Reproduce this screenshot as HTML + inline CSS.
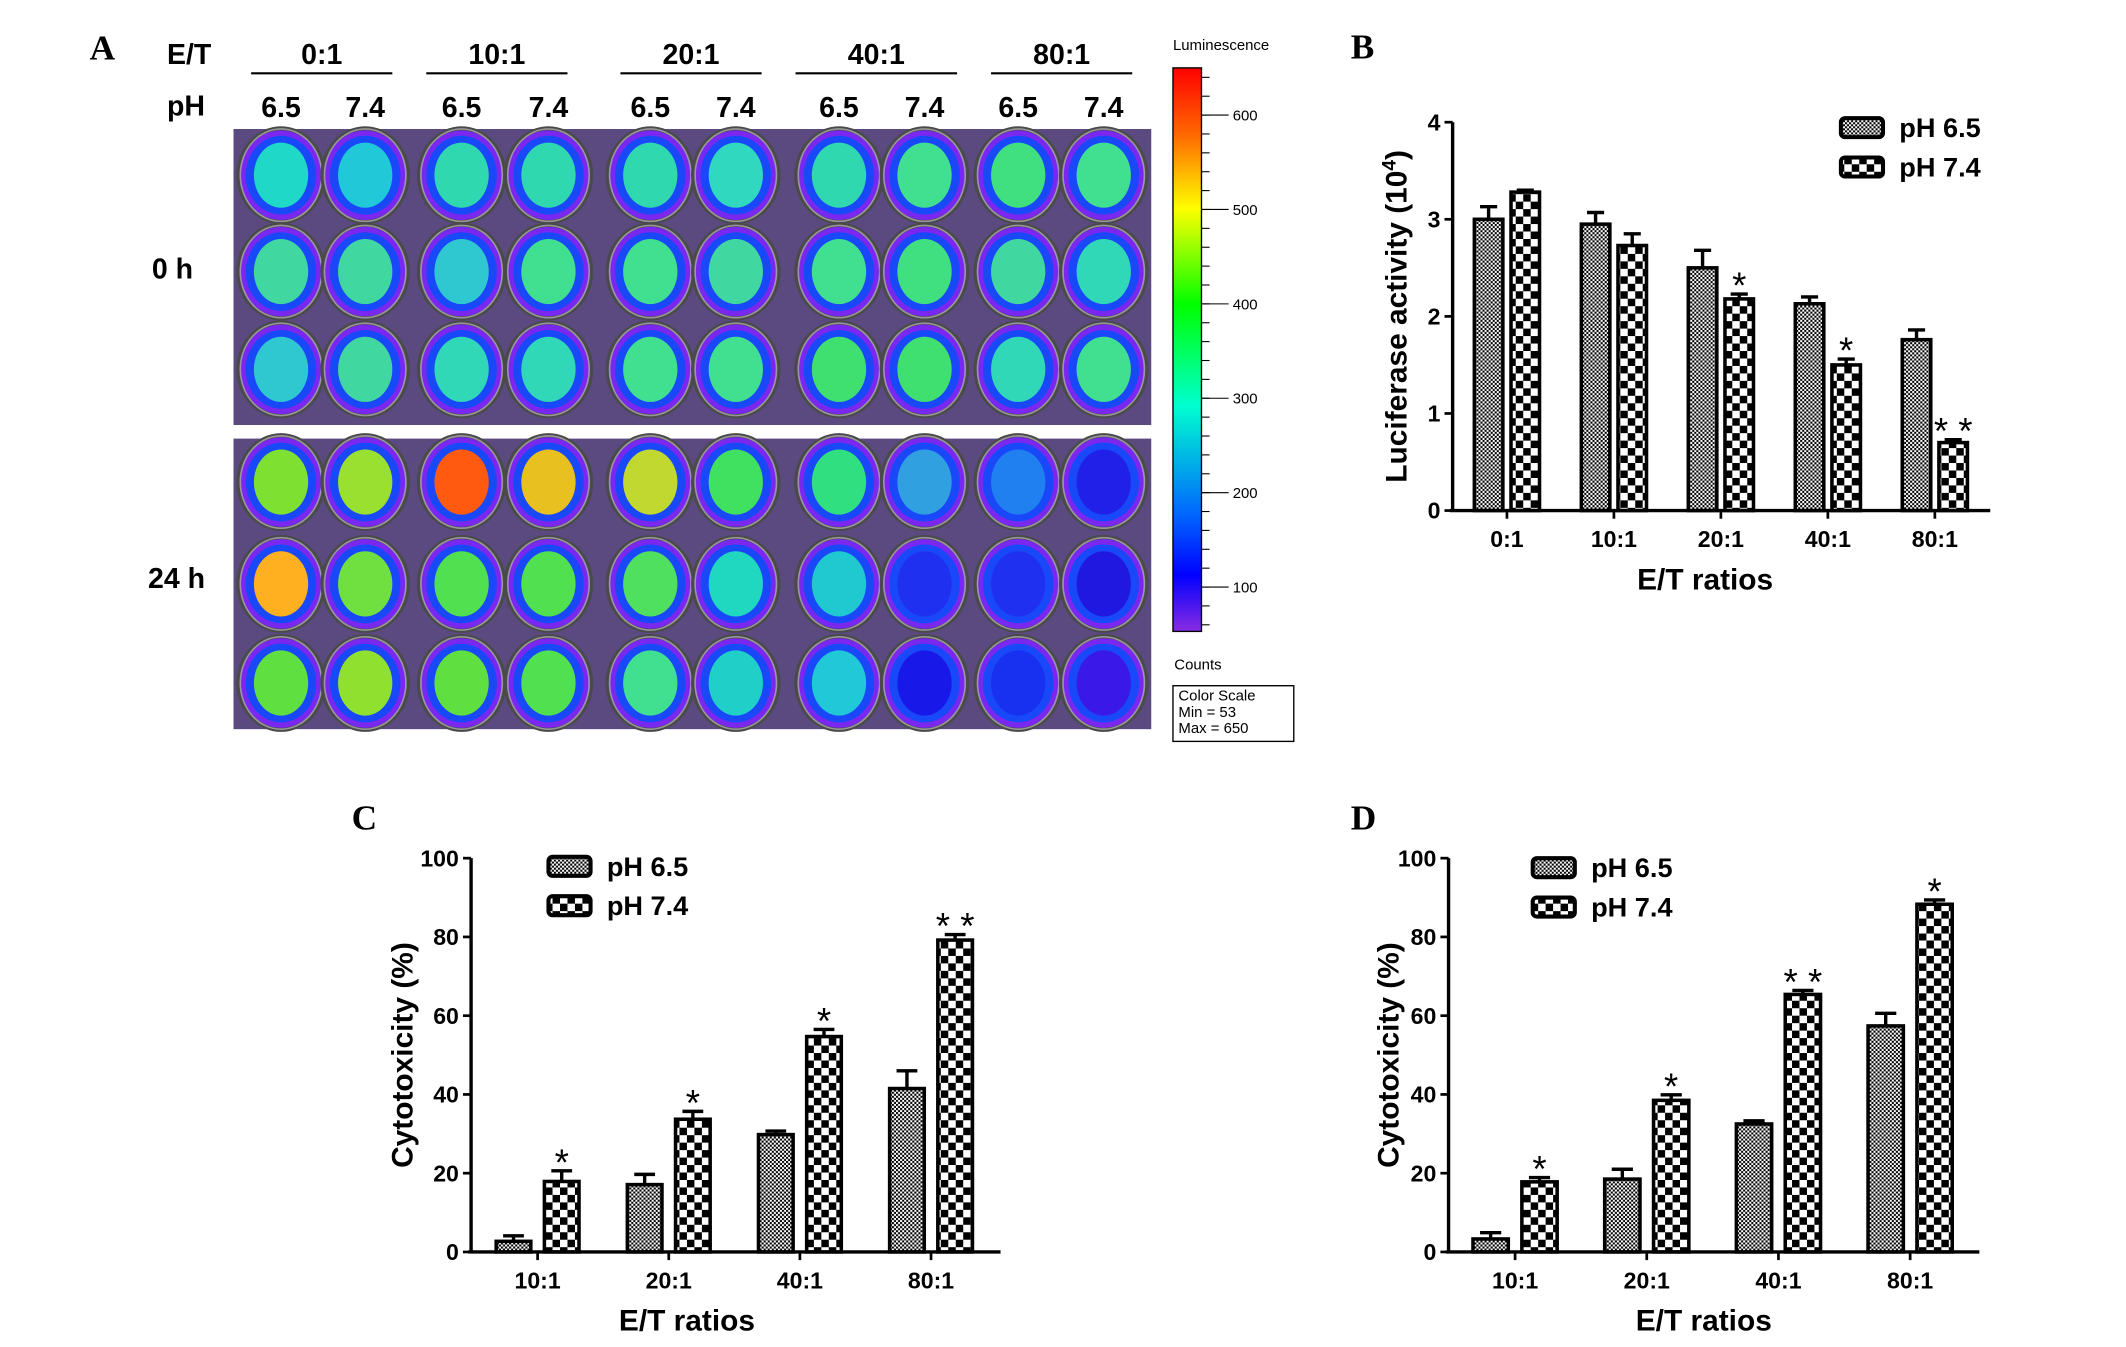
<!DOCTYPE html>
<html><head><meta charset="utf-8"><style>
html,body{margin:0;padding:0;background:#fff}
svg{display:block}
text{font-family:"Liberation Sans Narrow","Liberation Sans",sans-serif;font-weight:bold;fill:#000}
.serif{font-family:"Liberation Serif",serif}
.thin{font-weight:normal;font-family:"Liberation Sans",sans-serif}
</style></head><body>
<svg id="fig" width="2126" height="1347" viewBox="0 0 1566 992" preserveAspectRatio="none" xmlns="http://www.w3.org/2000/svg">
<defs>
<pattern id="fine" width="3" height="3" patternUnits="userSpaceOnUse"><rect width="3" height="3" fill="#fff"/><rect width="1.5" height="1.5" fill="#000"/><rect x="1.5" y="1.5" width="1.5" height="1.5" fill="#000"/></pattern>
<pattern id="coarse" width="11" height="11" patternUnits="userSpaceOnUse"><rect width="11" height="11" fill="#fff"/><rect width="5.5" height="5.5" fill="#000"/><rect x="5.5" y="5.5" width="5.5" height="5.5" fill="#000"/></pattern>
<linearGradient id="cbar" x1="0" y1="0" x2="0" y2="1">
<stop offset="0" stop-color="#ff0000"/><stop offset="0.12" stop-color="#ff6a00"/><stop offset="0.25" stop-color="#ffff00"/><stop offset="0.42" stop-color="#00ff00"/><stop offset="0.6" stop-color="#00ffd0"/><stop offset="0.8" stop-color="#0060ff"/><stop offset="0.9" stop-color="#0000ff"/><stop offset="1" stop-color="#8a2be2"/></linearGradient>
</defs>
<g id="panelA">
<text class="serif" x="66" y="44" font-size="26">A</text>
<text x="123" y="47" font-size="21">E/T</text>
<text x="123" y="85" font-size="21">pH</text>
</g>
<g id="panelB"></g>
<g id="panelC"></g>
<g id="panelD"></g>
</svg>
<script>
// ---- Panel A data ----
const aRatios = ["0:1","10:1","20:1","40:1","80:1"];
const aPh = ["6.5","7.4"];
const aTimes = ["0 h","24 h"];
const aScaleTicks = [100,200,300,400,500,600];
const aWell24 = [
 ["#7ee030","#9ae030","#ff5a10","#e8c020","#c0d830","#40e060","#30e080","#30a0e0","#2080f0","#2020e8"],
 ["#ffb020","#70e040","#50e050","#50e050","#50e060","#20d8c0","#20c8d0","#2030f0","#2030f0","#2018e0"],
 ["#60e040","#90e030","#60e040","#50e050","#40e090","#20d0c8","#20c8d8","#1818e8","#1830f0","#3a18e8"]];
const aWell0 = [
 ["#20d8c8","#20c8d8","#30d8b0","#30d8b0","#30d8b0","#30d8c0","#30d8b0","#40e090","#40e080","#40e090"],
 ["#40d8a0","#40d8a0","#30c8d0","#40e090","#40e090","#40d8a0","#40e090","#40e080","#40d8a0","#30d8b8"],
 ["#30c8d0","#40d8a0","#30d8b8","#30d8b8","#40e090","#40e090","#40e070","#40e070","#30d8b8","#40e090"]];

// ---- Panel B data ----
const bCats = ["0:1","10:1","20:1","40:1","80:1"];
const bPh65 = [3.0,2.95,2.5,2.13,1.76];
const bPh74 = [3.28,2.73,2.18,1.5,0.7];
const bErr65 = [0.13,0.12,0.18,0.07,0.1];
const bErr74 = [0.02,0.12,0.05,0.06,0.03];
const bStars = ["","","*","*","* *"];
const bTicks = [0,1,2,3,4];
// ---- Panel C data ----
const cCats = ["10:1","20:1","40:1","80:1"];
const cPh65 = [2.7,17.1,29.8,41.5];
const cPh74 = [17.9,33.7,54.7,79.2];
const cErr65 = [1.4,2.6,0.9,4.5];
const cErr74 = [2.7,2.0,1.8,1.4];
const cStars = ["*","*","*","* *"];
const cTicks = [0,20,40,60,80,100];
// ---- Panel D data ----
const dCats = ["10:1","20:1","40:1","80:1"];
const dPh65 = [3.3,18.5,32.5,57.4];
const dPh74 = [17.8,38.5,65.4,88.3];
const dErr65 = [1.6,2.5,0.8,3.2];
const dErr74 = [1.1,1.4,1.0,1.1];
const dStars = ["*","*","* *","*"];
const dTicks = [0,20,40,60,80,100];

const NS="http://www.w3.org/2000/svg";
function mk(tag,attrs,parent,txt){const e=document.createElementNS(NS,tag);for(const k in attrs)e.setAttribute(k,attrs[k]);if(txt!==undefined)e.textContent=txt;parent.appendChild(e);return e;}

const pA=document.getElementById('panelA');
const colX=[207,269,340,404,479,542,618,681,750,813];
const grpL=[185,314,457,586,730], grpR=[289,418,561,705,834];
aRatios.forEach((r,i)=>{
 const t=mk('text',{x:(grpL[i]+grpR[i])/2,y:47,'font-size':21,'text-anchor':'middle'},pA,r);
 
 
 const l=mk('line',{x1:grpL[i],x2:grpR[i],y1:54,y2:54,stroke:'#000','stroke-width':1.6},pA);
 
 
});
colX.forEach((x,i)=>{
 const t=mk('text',{x:x,y:86,'font-size':21,'text-anchor':'middle'},pA,aPh[i%2]);
 
 
});
function drawBlock(y0,h,rows,wells,name){
 const g=mk('g',{},pA);
 
 
 mk('rect',{x:172,y:y0,width:676,height:h,fill:'#5a4a80'},g);
 rows.forEach((ry,ri)=>{colX.forEach((cx,ci)=>{
  mk('ellipse',{cx:cx,cy:ry,rx:33,ry:36,fill:'#4a4a4a'},g);
  mk('ellipse',{cx:cx,cy:ry,rx:30,ry:33,fill:'#7a28f0'},g);
  mk('ellipse',{cx:cx,cy:ry,rx:26,ry:29,fill:'#1848f8'},g);
  const w=mk('ellipse',{cx:cx,cy:ry,rx:20,ry:24,fill:wells[ri][ci]},g);
  
  
  mk('ellipse',{cx:cx,cy:ry,rx:30,ry:34,fill:'none',stroke:'#b8b8b8','stroke-width':1.2,opacity:0.7},g);
 });});
}
drawBlock(95,218,[129,200,272],aWell0,'image-0h');
drawBlock(323,214,[355,430,503],aWell24,'image-24h');
[[127,205,aTimes[0]],[130,433,aTimes[1]]].forEach(([x,y,t])=>{
 const e=mk('text',{x:x,y:y,'font-size':21,'text-anchor':'middle'},pA,t);
 
 
});
const cb=mk('rect',{x:864,y:50,width:21,height:415,fill:'url(#cbar)',stroke:'#000','stroke-width':1},pA);


function cbY(v){return 465-(v-53)/(650-53)*415;}
for(let v=60;v<=640;v+=20){mk('line',{x1:885,x2:891,y1:cbY(v),y2:cbY(v),stroke:'#000','stroke-width':0.8},pA);}
aScaleTicks.forEach(v=>{
 mk('line',{x1:885,x2:905,y1:cbY(v),y2:cbY(v),stroke:'#000','stroke-width':0.8},pA);
 const t=mk('text',{x:908,y:cbY(v)+4,'font-size':11,class:'thin'},pA,String(v));
 
 
});
let t1=mk('text',{x:864,y:37,'font-size':11,class:'thin'},pA,'Luminescence');


let t2=mk('text',{x:865,y:493,'font-size':11,class:'thin'},pA,'Counts');


const box=mk('rect',{x:864,y:505,width:89,height:41,fill:'#fff',stroke:'#000','stroke-width':1},pA);


['Color Scale','Min = 53','Max = 650'].forEach((s,i)=>{mk('text',{x:868,y:516+i*12,'font-size':11,class:'thin'},pA,s);});

function barChart(g,cfg,cats,v65,v74,e65,e74,stars,ticks){
 const ys=v=>cfg.y0-(v/cfg.ymax)*(cfg.y0-cfg.yTop);
 const lab=mk('text',{x:cfg.lx,y:cfg.ly,'font-size':26,class:'serif'},g,cfg.letter);
 
 
 ticks.forEach(v=>{
  mk('line',{x1:cfg.ax-6,x2:cfg.ax,y1:ys(v),y2:ys(v),stroke:'#000','stroke-width':2},g);
  const t=mk('text',{x:cfg.ax-9,y:ys(v)+6,'font-size':17,'text-anchor':'end'},g,String(v));
  
  
 });
 cats.forEach((c,i)=>{
  const cx=cfg.c0+i*cfg.sp;
  const x1=cx-cfg.gap/2-cfg.w, x2=cx+cfg.gap/2;
  [[x1,v65[i],e65[i],'url(#fine)','bar-ph65-'],[x2,v74[i],e74[i],'url(#coarse)','bar-ph74-']].forEach(([x,v,e,f,n])=>{
   const top=ys(v), et=ys(v+e);
   mk('line',{x1:x+cfg.w/2,x2:x+cfg.w/2,y1:top,y2:et,stroke:'#000','stroke-width':2.5},g);
   mk('line',{x1:x+cfg.w*0.2,x2:x+cfg.w*0.8,y1:et,y2:et,stroke:'#000','stroke-width':2.5},g);
   const r=mk('rect',{x:x,y:top,width:cfg.w,height:cfg.y0-top,fill:f,stroke:'#000','stroke-width':2.6},g);
   
   
  });
  if(stars[i]){
   const s=mk('text',{x:x2+cfg.w/2,y:ys(v74[i]+e74[i])+3,'font-size':27,'text-anchor':'middle',class:'thin'},g,stars[i]);
   
   
  }
  mk('line',{x1:cx,x2:cx,y1:cfg.y0,y2:cfg.y0+6,stroke:'#000','stroke-width':2},g);
  const t=mk('text',{x:cx,y:cfg.y0+27,'font-size':17,'text-anchor':'middle'},g,c);
  
  
 });
 mk('line',{x1:cfg.ax,x2:cfg.ax,y1:cfg.yTop,y2:cfg.y0+1,stroke:'#000','stroke-width':2.5},g);
 const xa=mk('line',{x1:cfg.ax-2,x2:cfg.xEnd,y1:cfg.y0,y2:cfg.y0,stroke:'#000','stroke-width':2.5},g);
 
 
 const xt=mk('text',{x:cfg.xtx,y:cfg.y0+58,'font-size':22,'text-anchor':'middle',class:'thin',style:'font-weight:bold'},g,'E/T ratios');
 
 
 const cy=(cfg.y0+cfg.yTop)/2;
 const yt=mk('text',{x:cfg.ytx,y:cy,'font-size':22,'text-anchor':'middle',class:'thin',style:'font-weight:bold',transform:`rotate(-90 ${cfg.ytx} ${cy})`},g);
 
 
 if(cfg.sup){yt.textContent='Luciferase activity (10';mk('tspan',{dy:-8,'font-size':14},yt,'4');mk('tspan',{dy:8},yt,')');}
 else yt.textContent=cfg.ytitle;
 [['url(#fine)','pH 6.5',cfg.lgY],['url(#coarse)','pH 7.4',cfg.lgY+29]].forEach(([f,s,y])=>{
  const r=mk('rect',{x:cfg.lgX,y:y-7,width:31,height:14,rx:3,fill:f,stroke:'#000','stroke-width':3},g);
  
  
  const t=mk('text',{x:cfg.lgX+43,y:y+7,'font-size':20,class:'thin',style:'font-weight:bold'},g,s);
  
  
 });
}
barChart(document.getElementById('panelB'),{letter:'B',lx:995,ly:43,ax:1070,y0:376,yTop:90,ymax:4,xEnd:1466,c0:1110,sp:78.8,w:21,gap:6,xtx:1256,ytx:1036,sup:true,lgX:1356,lgY:94},bCats,bPh65,bPh74,bErr65,bErr74,bStars,bTicks);
barChart(document.getElementById('panelC'),{letter:'C',lx:259,ly:611,ax:347,y0:922,yTop:632,ymax:100,xEnd:737,c0:396,sp:96.6,w:25.5,gap:10,xtx:506,ytx:304,ytitle:'Cytotoxicity (%)',lgX:404,lgY:638},cCats,cPh65,cPh74,cErr65,cErr74,cStars,cTicks);
barChart(document.getElementById('panelD'),{letter:'D',lx:995,ly:611,ax:1067,y0:922,yTop:632,ymax:100,xEnd:1458,c0:1116,sp:97,w:26,gap:10,xtx:1255,ytx:1030,ytitle:'Cytotoxicity (%)',lgX:1129,lgY:639},dCats,dPh65,dPh74,dErr65,dErr74,dStars,dTicks);
</script>
</body></html>
